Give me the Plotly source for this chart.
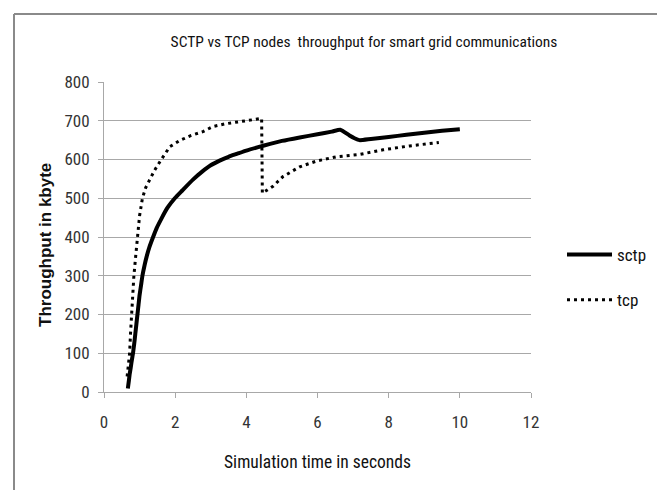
import plotly.graph_objects as go

# ---- data ----
sctp_t = [0.67, 0.70, 0.72, 0.75, 0.77, 0.80, 0.815, 0.85, 0.88, 0.91, 0.94, 0.97, 1.0, 1.04, 1.08,
          1.14, 1.2, 1.28, 1.38, 1.48, 1.6, 1.78, 1.99, 2.2, 2.5, 2.75, 3.0, 3.25, 3.5, 3.75,
          4.0, 4.5, 5.0, 5.5, 6.0, 6.4, 6.64, 6.9, 7.04, 7.18, 7.5, 8.0, 8.5, 9.0, 9.5, 10.0]
sctp_v = [9, 30, 45, 62, 75, 92, 100, 125, 150, 175, 200, 225, 250, 275, 300,
          327, 350, 375, 400, 423, 445, 475, 500, 520, 548, 568, 585, 597, 607, 615,
          623, 636, 648, 657, 665, 672, 677, 662, 655, 650, 653, 658, 664, 669, 674, 678]

tcp_t = [0.65, 0.67, 0.69, 0.72, 0.745, 0.77, 0.80, 0.84, 0.89, 0.94, 1.0, 1.08, 1.17, 1.28, 1.42,
         1.61, 1.85, 2.13, 2.45, 2.78, 3.06, 3.4, 3.81, 4.1, 4.43,
         4.45, 4.75, 5.03, 5.5, 5.97, 6.53, 7.18, 7.84, 8.59, 9.41]
tcp_v = [40, 60, 75, 100, 150, 200, 250, 300, 350, 400, 455, 500, 527, 547, 572,
         600, 633, 649, 662, 672, 685, 692, 698, 702, 706,
         513, 531, 556, 581, 596, 607, 613, 625, 635, 644]

x_ticks = [0, 2, 4, 6, 8, 10, 12]
y_ticks = [0, 100, 200, 300, 400, 500, 600, 700, 800]

FONT = "Liberation Sans Narrow, Arial Narrow, Roboto Condensed, sans-serif"
GRID = "#a8a8a8"
BORDER = "#8a8a8a"

OFF = 8  # page body margin offset
L, R, T, B = 104 - OFF, 531 - OFF, 82 - OFF, 392 - OFF
W, H = 665, 490


def px(v):
    return v - OFF


def fx(p):
    return (px(p) - L) / (R - L)


def fy(p):
    return (B - px(p)) / (B - T)


fig = go.Figure()
fig.add_trace(go.Scatter(x=sctp_t, y=sctp_v, mode="lines", name="sctp",
                         line=dict(color="black", width=4, shape="spline", smoothing=0.5),
                         legendgroup="a"))
fig.add_trace(go.Scatter(x=tcp_t, y=tcp_v, mode="lines", name="tcp",
                         line=dict(color="black", width=3, dash="3px,4px"), legendgroup="b"))

border = [
    dict(type="line", xref="paper", yref="paper", x0=fx(14), x1=fx(660), y0=fy(14), y1=fy(14)),
    dict(type="line", xref="paper", yref="paper", x0=fx(14), x1=fx(14), y0=fy(14), y1=fy(500)),
    dict(type="line", xref="paper", yref="paper", x0=fx(660), x1=fx(660), y0=fy(14), y1=fy(500)),
]
for s in border:
    s["line"] = dict(color=BORDER, width=2)
    s["layer"] = "above"

fig.update_layout(
    width=W, height=H,
    margin=dict(l=L, r=W - R, t=T, b=H - B, pad=0, autoexpand=False),
    paper_bgcolor="white", plot_bgcolor="white",
    font=dict(family=FONT, size=16, color="#222"),
    title=dict(text="SCTP vs TCP nodes  throughput for smart grid communications",
               x=fx(364), xref="paper", xanchor="center",
               y=1 - px(42) / H, yanchor="middle", font=dict(size=15.5, color="#111")),
    xaxis=dict(range=[0, 12], tickvals=x_ticks, showgrid=False, zeroline=False,
               showline=True, linecolor=GRID, linewidth=1, ticks="outside", ticklen=5,
               tickcolor=GRID, tickfont=dict(size=17, color="#333"), ticklabelstandoff=10,
               automargin=False,
               title=dict(text="Simulation time in seconds", font=dict(size=17.5, color="#111"),
                          standoff=24)),
    yaxis=dict(range=[0, 800], tickvals=y_ticks, showgrid=True, gridcolor=GRID, gridwidth=1,
               zeroline=False, showline=True, linecolor=GRID, linewidth=1, ticks="outside",
               ticklen=5, tickcolor=GRID, tickfont=dict(size=17, color="#333"),
               ticklabelstandoff=5, automargin=False),
    annotations=[dict(text="<b>Throughput in kbyte</b>", xref="paper", yref="paper",
                      x=fx(45), y=fy(245), xanchor="center", yanchor="middle", textangle=-90,
                      showarrow=False,
                      font=dict(size=17, color="#111", family="Liberation Sans, Arial, sans-serif"))],
    showlegend=True,
    legend=dict(x=fx(562), xanchor="left", y=fy(277.5),
                yanchor="middle", font=dict(size=17, color="#111"), tracegroupgap=20,
                traceorder="grouped", itemwidth=45, bgcolor="rgba(0,0,0,0)"),
    shapes=border,
)

fig.write_html("out.html")
